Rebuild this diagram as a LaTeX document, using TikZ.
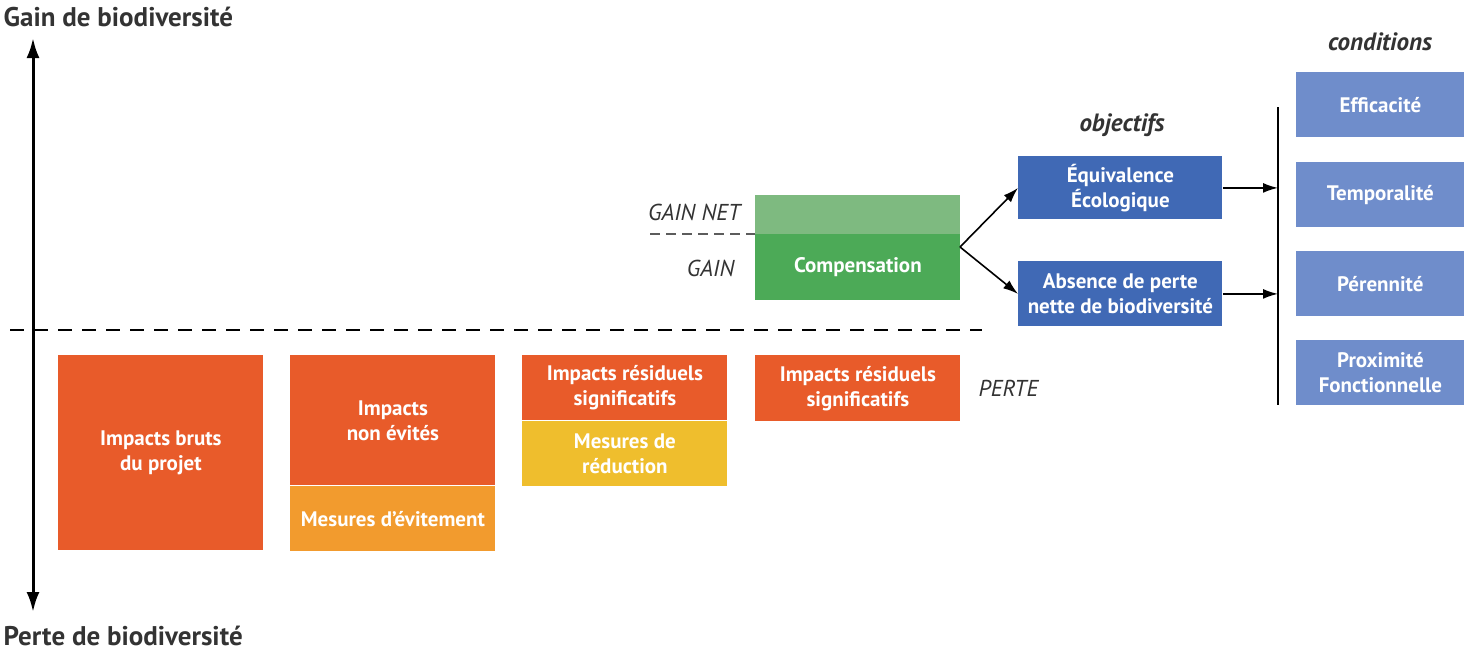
\documentclass[tikz,border=0pt]{standalone}
\usepackage{fontspec}
\setmainfont{PT Sans}
\usetikzlibrary{arrows.meta,positioning}

\definecolor{impact}{HTML}{E85B2A}
\definecolor{evite}{HTML}{F29B2E}
\definecolor{reduc}{HTML}{EFBE2D}
\definecolor{gainnet}{HTML}{7EBA80}
\definecolor{gaincol}{HTML}{4CAA57}
\definecolor{objcol}{HTML}{4069B5}
\definecolor{condcol}{HTML}{6F8DCB}
\definecolor{txtgray}{HTML}{333333}

\begin{document}
\begin{tikzpicture}[x=1pt,y=-1pt]
        \useasboundingbox (0,0) rectangle (1464,654);
        \tikzstyle{every path}=[thick]

        \edef\widthbox{205pt}
        \tikzstyle{box}=[draw=none,anchor=north west,inner sep=0pt,minimum width=\widthbox,
                         align=center,text=white,font=\fontsize{21}{25}\selectfont\bfseries]
        \tikzstyle{lbl}=[text=txtgray,font=\fontsize{23}{27}\selectfont\itshape]
        \tikzstyle{head}=[text=txtgray,font=\fontsize{25}{30}\selectfont\bfseries\itshape]
        \tikzstyle{title}=[text=txtgray,font=\fontsize{27}{32}\selectfont\bfseries]
        \tikzstyle{link}=[line width=1.6pt,-{Latex[length=15pt,width=10pt]}]

        % axe vertical
        \node [title,anchor=west] (gain) at (0,17) {Gain de biodiversité};
        \node [title,anchor=west] (perte) at (0,636) {Perte de biodiversité};
        \coordinate (axetop) at (33,38);
        \coordinate (axebot) at (33,612);
        \draw [line width=3pt,{Latex[length=20pt,width=13pt]}-{Latex[length=20pt,width=13pt]}] (axetop) -- (axebot);

        % ligne zero
        \coordinate (zeroL) at (10,330);
        \coordinate (zeroR) at (982,330);
        \draw [line width=2.5pt,dash pattern=on 14pt off 10pt] (zeroL) -- (zeroR);

        % pertes
        \node [box,fill=impact,minimum height=195pt] (bruts) at (58,355) {Impacts bruts\\du projet};
        \node [box,fill=impact,minimum height=130pt] (nonevit) at (290,355) {Impacts\\non évités};
        \node [box,fill=evite,minimum height=65pt] (evit) at (nonevit.south west) {Mesures d'évitement};
        \node [box,fill=impact,minimum height=65pt] (resid1) at (522,355) {Impacts résiduels\\significatifs};
        \node [box,fill=reduc,minimum height=65pt] (reduc) at (resid1.south west) {Mesures de\\réduction};
        \node [box,fill=impact,minimum height=66pt] (resid2) at (755,355) {Impacts résiduels\\significatifs};
        \node [lbl,anchor=west] (pertelbl) at (975,388) {PERTE};

        % gains
        \node [box,fill=gaincol,minimum height=66pt] (comp) at (755,234) {Compensation};
        \node [box,fill=gainnet,minimum height=39pt,anchor=south west] (net) at (comp.north west) {};
        \node [lbl,anchor=east] (netlbl) at (744,212) {GAIN NET};
        \node [lbl,anchor=east] (gainlbl) at (738,268) {GAIN};
        \coordinate (netL) at (650,234);
        \draw [line width=2pt,txtgray!80,dash pattern=on 10pt off 6pt] (netL) -- (net.south west);

        % objectifs
        \node [box,fill=objcol,minimum width=204pt,minimum height=63pt] (equi) at (1018,156) {Équivalence\\Écologique};
        \node [box,fill=objcol,minimum width=204pt,minimum height=65pt] (absence) at (1018,261) {Absence de perte\\nette de biodiversité};
        \node [head] (obj) at (1122,125) {objectifs};
        \coordinate (split) at (960,247);
        \draw [link] (split) -- (equi.west);
        \draw [link] (split) -- (absence.west);

        % conditions
        \coordinate (bartop) at (1278,107);
        \coordinate (barbot) at (1278,405);
        \draw [line width=1.4pt] (bartop) -- (barbot);
        \draw [link] (equi.east) -- (equi.east -| bartop);
        \draw [link] (absence.east) -- (absence.east -| bartop);
        \node [head] (cond) at (1380,42) {conditions};
        \foreach \i/\y/\t in {1/72/{Efficacité}, 2/162/{Temporalité}, 3/251/{Pérennité}, 4/340/{Proximité\\Fonctionnelle}} {
            \node [box,fill=condcol,minimum width=168pt,minimum height=65pt] (cond\i) at (1296,\y) {\t};
        };

\end{tikzpicture}
\end{document}
